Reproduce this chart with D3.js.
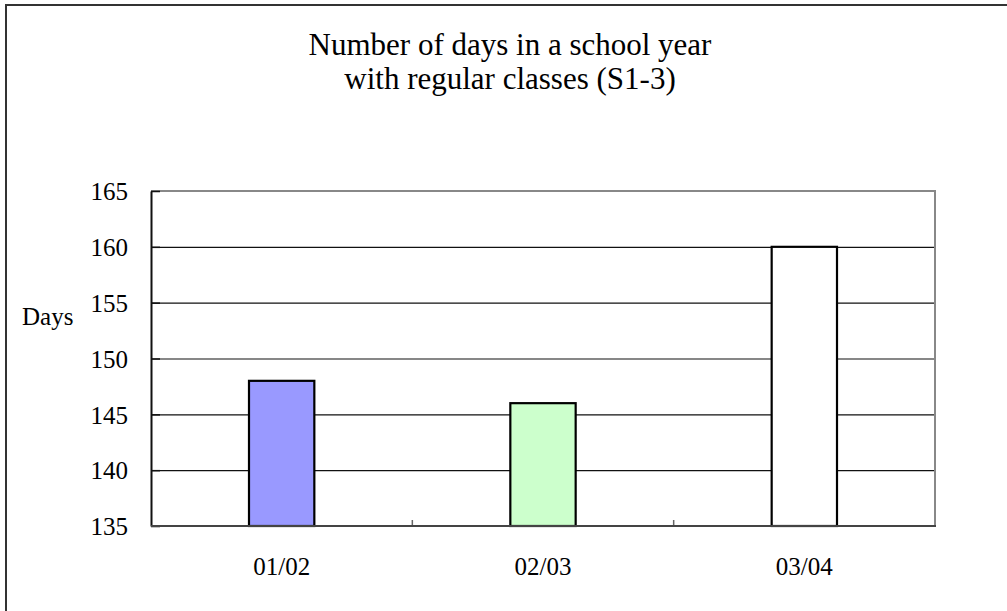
<!DOCTYPE html>
<html>
<head>
<meta charset="utf-8">
<script src="https://cdn.jsdelivr.net/npm/d3@7"></script>
<style>
  body { margin: 0; background: #fff; }
  text { font-family: "Liberation Serif", "Times New Roman", serif; fill: #000; }
</style>
</head>
<body>
<script>
const years = ['01/02', '02/03', '03/04'];
const days = [148, 146, 160];
const barColors = ['#9999ff', '#ccffcc', '#ffffff'];
const yTicks = [135, 140, 145, 150, 155, 160, 165];
const titleLines = ['Number of days in a school year', 'with regular classes (S1-3)'];

const W = 1007, H = 611;
const plot = {left: 151, right: 935, top: 191, bottom: 526};

const svg = d3.select('body').append('svg')
    .attr('width', W)
    .attr('height', H);

// outer chart frame (only left/top edges fall inside the picture)
svg.append('rect')
    .attr('x', 6).attr('y', 5)
    .attr('width', W + 20).attr('height', H + 20)
    .attr('fill', 'none')
    .attr('stroke', '#333')
    .attr('stroke-width', 2);

const x = d3.scaleBand()
    .domain(years)
    .range([plot.left, plot.right])
    .padding(0);

const y = d3.scaleLinear()
    .domain([135, 165])
    .range([plot.bottom, plot.top]);

// title
svg.append('text')
    .attr('text-anchor', 'middle')
    .attr('font-size', '31px')
    .selectAll('tspan')
    .data(titleLines)
    .enter().append('tspan')
    .attr('x', 510)
    .attr('y', function(d, i) { return 55 + i * 34; })
    .text(function(d) { return d; });

// gridlines
svg.append('g')
    .attr('class', 'grid')
    .attr('transform', 'translate(' + plot.left + ',0)')
    .call(d3.axisRight(y).tickValues(yTicks.slice(1, -1)).tickSize(plot.right - plot.left).tickFormat(''))
    .call(function(g) { g.select('.domain').remove(); })
    .selectAll('line')
    .attr('stroke', '#111')
    .attr('stroke-width', 1.2);

// top / right border of plot area
svg.append('path')
    .attr('d', 'M' + plot.left + ',' + plot.top + 'H' + plot.right + 'V' + plot.bottom)
    .attr('fill', 'none')
    .attr('stroke', '#888')
    .attr('stroke-width', 2);

// bars
const barW = x.bandwidth() / 4;
svg.selectAll('rect.bar')
    .data(years)
    .enter().append('rect')
    .attr('class', 'bar')
    .attr('x', function(d) { return x(d) + x.bandwidth() / 2 - barW / 2; })
    .attr('y', function(d, i) { return y(days[i]); })
    .attr('width', barW)
    .attr('height', function(d, i) { return y(135) - y(days[i]); })
    .attr('fill', function(d, i) { return barColors[i]; })
    .attr('stroke', '#000')
    .attr('stroke-width', 2.2);

// y axis, ticks point inward
const yAxis = svg.append('g')
    .attr('transform', 'translate(' + plot.left + ',0)')
    .call(d3.axisLeft(y).tickValues(yTicks).tickSizeInner(-9).tickSizeOuter(0).tickPadding(23));
yAxis.select('.domain').attr('stroke', '#111').attr('stroke-width', 2);
yAxis.selectAll('line').attr('stroke', '#111').attr('stroke-width', 1.5);
yAxis.selectAll('text')
    .attr('font-size', '25px')
    .attr('font-family', '"Liberation Serif", serif')
    .attr('dy', '0.35em');

// x axis: category boundaries with small upward ticks
const bounds = years.slice(1).map(function(d) { return x(d); });
svg.append('g')
    .selectAll('line')
    .data(bounds)
    .enter().append('line')
    .attr('x1', function(d) { return d; })
    .attr('x2', function(d) { return d; })
    .attr('y1', plot.bottom)
    .attr('y2', plot.bottom - 6)
    .attr('stroke', '#666')
    .attr('stroke-width', 1.5);

svg.append('line')
    .attr('x1', plot.left).attr('x2', plot.right + 1)
    .attr('y1', plot.bottom).attr('y2', plot.bottom)
    .attr('stroke', '#444')
    .attr('stroke-width', 2);

svg.append('g')
    .selectAll('text')
    .data(years)
    .enter().append('text')
    .attr('x', function(d) { return x(d) + x.bandwidth() / 2; })
    .attr('y', 575)
    .attr('text-anchor', 'middle')
    .attr('font-size', '25px')
    .text(function(d) { return d; });

// y axis title
svg.append('text')
    .attr('x', 22)
    .attr('y', 325)
    .attr('font-size', '25px')
    .text('Days');
</script>
</body>
</html>
